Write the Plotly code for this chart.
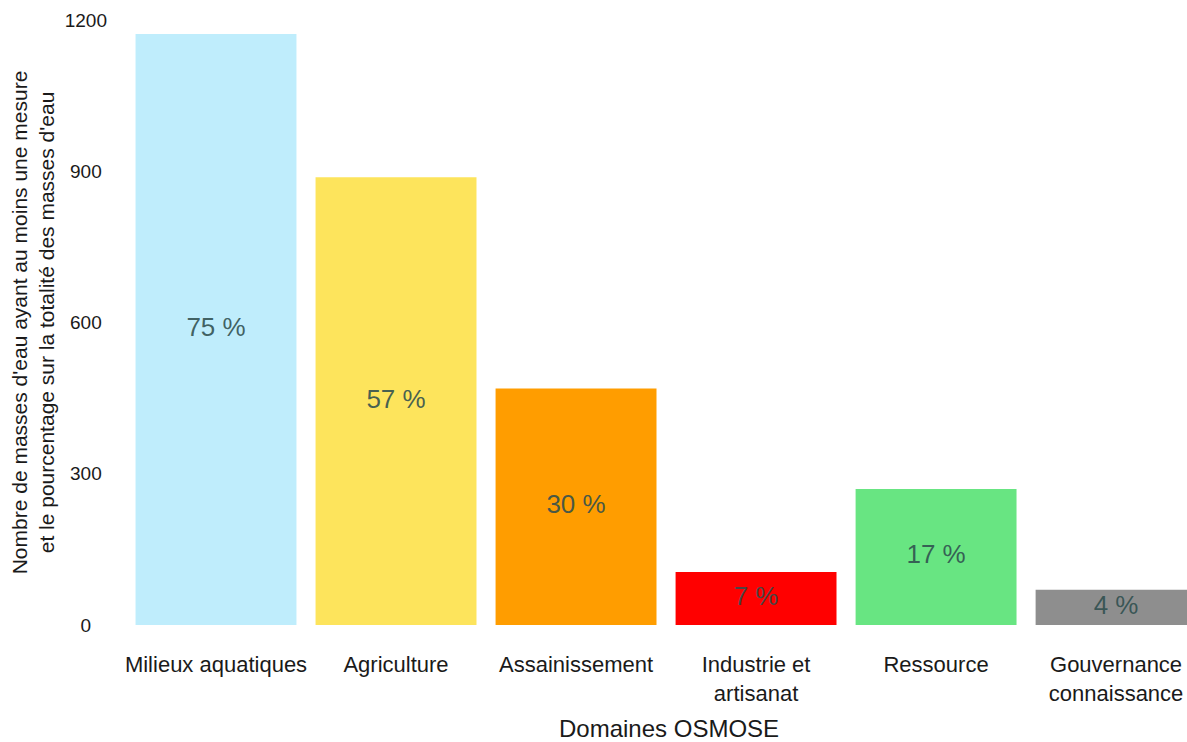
import plotly.graph_objects as go

categories = ["Milieux aquatiques", "Agriculture", "Assainissement",
              "Industrie et<br>artisanat", "Ressource", "Gouvernance<br>connaissance"]
counts = [1172, 888, 469, 105, 270, 70]
percent_labels = ["75 %", "57 %", "30 %", "7 %", "17 %", "4 %"]
colors = ["#BFEDFC", "#FDE45C", "#FF9D00", "#FF0000", "#68E582", "#8E8E8E"]
ytick_vals = [0, 300, 600, 900, 1200]
ytick_text = ["\u00a0\u00a0\u00a00\u00a0\u00a0\u00a0", "\u00a0300\u00a0", "\u00a0600\u00a0", "\u00a0900\u00a0", "1200"]
x_title = "Domaines OSMOSE"

FONT = "Liberation Sans, Arial, sans-serif"

fig = go.Figure()
fig.add_trace(go.Bar(x=categories, y=counts, marker=dict(color=colors, line=dict(width=0)),
                     hoverinfo="skip"))
fig.add_trace(go.Scatter(x=categories, y=[c / 2 for c in counts], mode="text",
                         text=percent_labels,
                         textfont=dict(family=FONT, size=26, color="rgba(47,79,79,0.88)"),
                         hoverinfo="skip"))

fig.add_annotation(text=x_title, xref="paper", yref="paper", x=0.512, y=-0.171,
                   xanchor="center", yanchor="middle", showarrow=False, borderpad=0,
                   font=dict(family=FONT, size=24, color="#1a1a1a"))

fig.update_layout(
    width=1187, height=742,
    margin=dict(l=126, r=0, t=20, b=117),
    plot_bgcolor="white", paper_bgcolor="white",
    showlegend=False, bargap=0.106,
    font=dict(family=FONT, color="#1a1a1a"),
    xaxis=dict(range=[-0.5, 5.394], showgrid=False, zeroline=False, showline=False,
               ticks="", ticklabelstandoff=24, automargin=False,
               tickfont=dict(size=22, color="#1a1a1a")),
    yaxis=dict(range=[0, 1200], showgrid=False, zeroline=False, showline=False,
               tickvals=ytick_vals, ticktext=ytick_text, ticks="",
               ticklabelstandoff=18, automargin=False,
               tickfont=dict(size=19, color="#1a1a1a"),
               title=dict(text="Nombre de masses d'eau ayant au moins une mesure<br>et le pourcentage sur la totalité des masses d'eau",
                          font=dict(size=21, color="#1a1a1a"), standoff=4)),
)

fig.write_html("out.html", config={"displayModeBar": False},
               post_script="document.body.style.margin='0';document.body.style.overflow='hidden';")
